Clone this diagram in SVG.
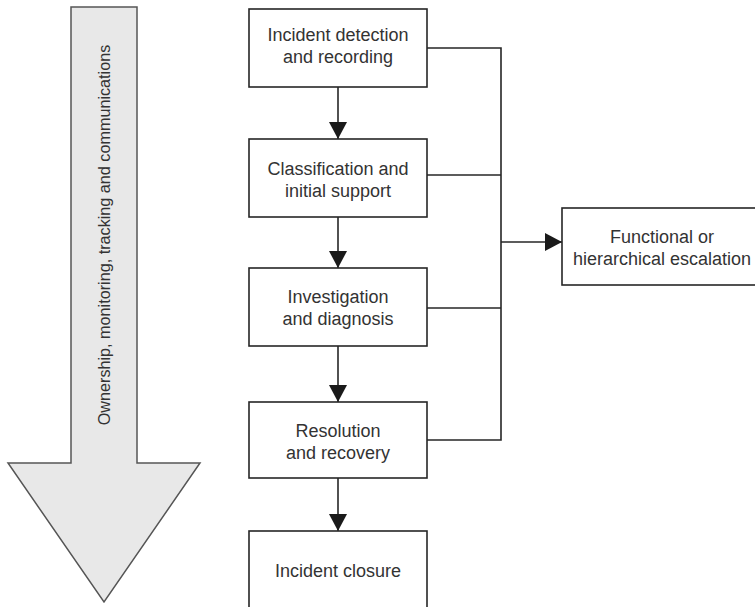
<svg xmlns="http://www.w3.org/2000/svg" width="755" height="607" viewBox="0 0 755 607">
  <style>
    .box { fill: #ffffff; stroke: #262626; stroke-width: 1.6; }
    .lbl { font-family: "Liberation Sans", Arial, sans-serif; font-size: 18px; fill: #333333; text-anchor: middle; }
    .band { font-size: 16.2px; }
    .wire { fill: none; stroke: #262626; stroke-width: 1.6; }
    .flow { fill: none; stroke: #262626; stroke-width: 1.6; marker-end: url(#head); }
  </style>
  <defs>
    <marker id="head" markerUnits="userSpaceOnUse" markerWidth="18" markerHeight="18" refX="17" refY="9" orient="auto">
      <path d="M0,0 L17,9 L0,18 z" fill="#1a1a1a"/>
    </marker>
  </defs>
  <rect width="755" height="607" fill="#ffffff"/>

  <!-- side band: ownership runs through the whole lifecycle -->
  <g id="ownership">
    <polygon points="71,7 137,7 137,463 200,463 104,602 8,463 71,463" fill="#e8e8e8" stroke="#555555" stroke-width="1.5"/>
    <text class="lbl band" transform="translate(110,235) rotate(-90)">Ownership, monitoring, tracking and communications</text>
  </g>

  <g id="connectors">
    <line class="flow" x1="338" y1="87" x2="338" y2="139"/>
    <line class="flow" x1="338" y1="217" x2="338" y2="268"/>
    <line class="flow" x1="338" y1="346" x2="338" y2="402"/>
    <line class="flow" x1="338" y1="478" x2="338" y2="531"/>
    <path class="wire" d="M427,48 H501 V440 H427"/>
    <path class="wire" d="M427,175 H501"/>
    <path class="wire" d="M427,308 H501"/>
    <line class="flow" x1="501" y1="242" x2="562" y2="242"/>
  </g>

  <g id="detection">
    <rect class="box" x="249" y="9" width="178" height="78"/>
    <text class="lbl" x="338" y="41">Incident detection</text>
    <text class="lbl" x="338" y="63">and recording</text>
  </g>

  <g id="classification">
    <rect class="box" x="249" y="139" width="178" height="78"/>
    <text class="lbl" x="338" y="175">Classification and</text>
    <text class="lbl" x="338" y="197">initial support</text>
  </g>

  <g id="investigation">
    <rect class="box" x="249" y="268" width="178" height="78"/>
    <text class="lbl" x="338" y="303">Investigation</text>
    <text class="lbl" x="338" y="325">and diagnosis</text>
  </g>

  <g id="resolution">
    <rect class="box" x="249" y="402" width="178" height="76"/>
    <text class="lbl" x="338" y="437">Resolution</text>
    <text class="lbl" x="338" y="459">and recovery</text>
  </g>

  <g id="closure">
    <rect class="box" x="249" y="531" width="178" height="80"/>
    <text class="lbl" x="338" y="577">Incident closure</text>
  </g>

  <g id="escalation">
    <rect class="box" x="562" y="208" width="202" height="77"/>
    <text class="lbl" x="662" y="243">Functional or</text>
    <text class="lbl" x="662" y="265">hierarchical escalation</text>
  </g>
</svg>
